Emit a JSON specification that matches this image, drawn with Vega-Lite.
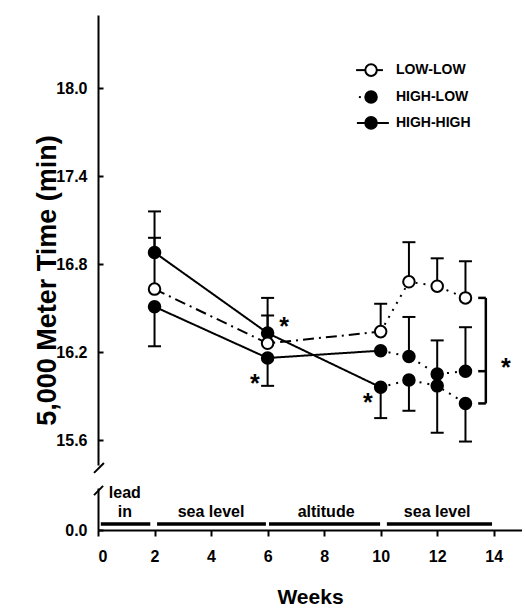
{
  "$schema": "https://vega.github.io/schema/vega-lite/v6.json",
  "padding": {"left": 33, "top": 15, "right": 0, "bottom": 0},
  "background": "white",
  "config": {
    "font": "Liberation Sans",
    "view": {"stroke": null},
    "axis": {"domainColor": "black", "domainWidth": 2, "tickColor": "black", "tickWidth": 2, "labelColor": "black", "labelFont": "Liberation Sans", "labelFontWeight": "bold", "labelFontSize": 16, "titleColor": "black", "titleFont": "Liberation Sans", "titleFontWeight": "bold", "grid": false},
    "concat": {"spacing": 10}
  },
  "datasets": {
    "perf": [
      {"series": "HIGH-HIGH", "week": 2, "time": 16.88, "err": 17.16},
      {"series": "HIGH-HIGH", "week": 6, "time": 16.33, "err": 16.57},
      {"series": "HIGH-HIGH", "week": 10, "time": 15.96, "err": 15.75},
      {"series": "HIGH-HIGH", "week": 11, "time": 16.01, "err": 15.80},
      {"series": "HIGH-HIGH", "week": 12, "time": 15.97, "err": 15.65},
      {"series": "HIGH-HIGH", "week": 13, "time": 15.85, "err": 15.59},
      {"series": "HIGH-LOW", "week": 2, "time": 16.51, "err": 16.24},
      {"series": "HIGH-LOW", "week": 6, "time": 16.16, "err": 15.97},
      {"series": "HIGH-LOW", "week": 10, "time": 16.21, "err": null},
      {"series": "HIGH-LOW", "week": 11, "time": 16.17, "err": 16.44},
      {"series": "HIGH-LOW", "week": 12, "time": 16.05, "err": 16.28},
      {"series": "HIGH-LOW", "week": 13, "time": 16.07, "err": 16.37},
      {"series": "LOW-LOW", "week": 2, "time": 16.63, "err": 16.98},
      {"series": "LOW-LOW", "week": 6, "time": 16.26, "err": 16.45},
      {"series": "LOW-LOW", "week": 10, "time": 16.34, "err": 16.53},
      {"series": "LOW-LOW", "week": 11, "time": 16.68, "err": 16.95},
      {"series": "LOW-LOW", "week": 12, "time": 16.65, "err": 16.84},
      {"series": "LOW-LOW", "week": 13, "time": 16.57, "err": 16.82}
    ],
    "legendItems": [
      {"series": "LOW-LOW", "sym": 9.66, "from": 9.13, "to": 10.08, "lab": 10.54, "pos": 18.124},
      {"series": "HIGH-LOW", "sym": 9.66, "from": 9.23, "to": 9.3, "lab": 10.54, "pos": 17.94},
      {"series": "HIGH-HIGH", "sym": 9.66, "from": 9.16, "to": 10.29, "lab": 10.54, "pos": 17.764}
    ],
    "bracket": [
      {"x1": 13.72, "x2": 13.72, "y1": 16.57, "y2": 15.85},
      {"x1": 13.45, "x2": 13.72, "y1": 16.57, "y2": 16.57},
      {"x1": 13.45, "x2": 13.72, "y1": 16.07, "y2": 16.07},
      {"x1": 13.45, "x2": 13.72, "y1": 15.85, "y2": 15.85}
    ],
    "stars": [
      {"week": 6.58, "time": 16.42},
      {"week": 5.55, "time": 16.03},
      {"week": 9.55, "time": 15.9},
      {"week": 14.43, "time": 16.14}
    ],
    "upperBreak": [{"x1": -0.14, "x2": 0.21, "y1": 15.376, "y2": 15.444}],
    "lowerBreak": [{"x1": -0.14, "x2": 0.18, "y1": 0.83, "y2": 1.05}],
    "phases": [
      {"phase": "lead in", "start": 0.1, "end": 1.85, "mid": 0.95},
      {"phase": "sea level", "start": 2.09, "end": 5.94, "mid": 4.0},
      {"phase": "altitude", "start": 6.05, "end": 9.98, "mid": 8.07},
      {"phase": "sea level", "start": 10.22, "end": 13.94, "mid": 12.0}
    ]
  },
  "resolve": {"scale": {"x": "independent", "y": "independent"}},
  "vconcat": [
    {
      "width": 424,
      "height": 450,
      "layer": [
        {
          "data": {"name": "perf"},
          "transform": [{"filter": "isValid(datum.err)"}],
          "mark": {"type": "rule", "strokeWidth": 2, "color": "black"},
          "encoding": {
            "x": {"field": "week", "type": "quantitative", "scale": {"domain": [0, 15], "nice": false, "zero": false}, "axis": null},
            "y": {"field": "time", "type": "quantitative", "scale": {"domain": [15.43, 18.5], "nice": false, "zero": false},
              "axis": {"values": [15.6, 16.2, 16.8, 17.4, 18.0], "format": ".1f", "tickSize": -5, "labelPadding": 16,
                "title": "5,000 Meter Time (min)", "titleFontSize": 27, "titleX": -51, "titleY": 265, "titleAngle": -90, "titleAlign": "center", "titleBaseline": "middle"}},
            "y2": {"field": "err"}
          }
        },
        {
          "data": {"name": "perf"},
          "transform": [{"filter": "isValid(datum.err)"}],
          "mark": {"type": "tick", "orient": "horizontal", "size": 13, "thickness": 2, "color": "black", "opacity": 1},
          "encoding": {
            "x": {"field": "week", "type": "quantitative"},
            "y": {"field": "err", "type": "quantitative"}
          }
        },
        {
          "data": {"name": "perf"},
          "transform": [{"filter": "datum.week <= 10"}],
          "mark": {"type": "line", "strokeWidth": 2, "color": "black"},
          "encoding": {
            "x": {"field": "week", "type": "quantitative"},
            "y": {"field": "time", "type": "quantitative"},
            "detail": {"field": "series"},
            "strokeDash": {"field": "series", "type": "nominal", "scale": {"domain": ["LOW-LOW", "HIGH-LOW", "HIGH-HIGH"], "range": [[11, 5, 2, 5], [1, 0], [1, 0]]}, "legend": null}
          }
        },
        {
          "data": {"name": "perf"},
          "transform": [{"filter": "datum.week >= 10"}],
          "mark": {"type": "line", "strokeWidth": 2, "color": "black", "strokeDash": [2, 6]},
          "encoding": {
            "x": {"field": "week", "type": "quantitative"},
            "y": {"field": "time", "type": "quantitative"},
            "detail": {"field": "series"}
          }
        },
        {
          "data": {"name": "perf"},
          "mark": {"type": "point", "shape": "circle", "filled": true, "size": 133, "stroke": "black", "strokeWidth": 2, "opacity": 1},
          "encoding": {
            "x": {"field": "week", "type": "quantitative"},
            "y": {"field": "time", "type": "quantitative"},
            "fill": {"field": "series", "type": "nominal",
              "scale": {"domain": ["LOW-LOW", "HIGH-LOW", "HIGH-HIGH"], "range": ["white", "black", "black"]},
              "legend": null}
          }
        },
        {
          "data": {"name": "legendItems"},
          "mark": {"type": "rule", "strokeWidth": 2, "color": "black"},
          "encoding": {
            "x": {"field": "from", "type": "quantitative"},
            "x2": {"field": "to"},
            "y": {"field": "pos", "type": "quantitative"}
          }
        },
        {
          "data": {"name": "legendItems"},
          "mark": {"type": "point", "shape": "circle", "filled": true, "size": 133, "stroke": "black", "strokeWidth": 2, "opacity": 1},
          "encoding": {
            "x": {"field": "sym", "type": "quantitative"},
            "y": {"field": "pos", "type": "quantitative"},
            "fill": {"field": "series", "type": "nominal", "legend": null}
          }
        },
        {
          "data": {"name": "legendItems"},
          "mark": {"type": "text", "fontSize": 14, "fontWeight": "bold", "align": "left", "baseline": "middle", "color": "black"},
          "encoding": {
            "x": {"field": "lab", "type": "quantitative"},
            "y": {"field": "pos", "type": "quantitative"},
            "text": {"field": "series", "type": "nominal"}
          }
        },
        {
          "data": {"name": "bracket"},
          "mark": {"type": "rule", "strokeWidth": 2.5, "color": "black"},
          "encoding": {
            "x": {"field": "x1", "type": "quantitative"},
            "x2": {"field": "x2"},
            "y": {"field": "y1", "type": "quantitative"},
            "y2": {"field": "y2"}
          }
        },
        {
          "data": {"name": "stars"},
          "mark": {"type": "text", "fontSize": 25, "fontWeight": "bold", "baseline": "alphabetic", "dy": 15, "color": "black"},
          "encoding": {
            "x": {"field": "week", "type": "quantitative"},
            "y": {"field": "time", "type": "quantitative"},
            "text": {"value": "*"}
          }
        },
        {
          "data": {"name": "upperBreak"},
          "mark": {"type": "rule", "strokeWidth": 2, "color": "black"},
          "encoding": {
            "x": {"field": "x1", "type": "quantitative"},
            "x2": {"field": "x2"},
            "y": {"field": "y1", "type": "quantitative"},
            "y2": {"field": "y2"}
          }
        }
      ]
    },
    {
      "width": 424,
      "height": 42,
      "layer": [
        {
          "data": {"name": "phases"},
          "mark": {"type": "rule", "strokeWidth": 3.5, "color": "black"},
          "encoding": {
            "x": {"field": "start", "type": "quantitative", "scale": {"domain": [0, 15], "nice": false, "zero": false},
              "axis": {"values": [0, 2, 4, 6, 8, 10, 12, 14], "tickSize": 6, "labelPadding": 12, "title": "Weeks", "titleFontSize": 21, "titlePadding": 22}},
            "x2": {"field": "end"},
            "y": {"datum": 0.14, "type": "quantitative", "scale": {"domain": [0, 1], "nice": false, "zero": false},
              "axis": {"values": [0], "format": ".1f", "title": null, "tickSize": -5, "labelPadding": 16}}
          }
        },
        {
          "data": {"name": "phases"},
          "transform": [{"filter": "datum.phase !== 'lead in'"}],
          "mark": {"type": "text", "fontSize": 16, "fontWeight": "bold", "baseline": "bottom", "color": "black"},
          "encoding": {
            "x": {"field": "mid", "type": "quantitative"},
            "y": {"datum": 0.25, "type": "quantitative"},
            "text": {"field": "phase", "type": "nominal"}
          }
        },
        {
          "data": {"name": "phases"},
          "transform": [{"filter": "datum.phase === 'lead in'"}],
          "mark": {"type": "text", "fontSize": 16, "fontWeight": "bold", "baseline": "bottom", "lineBreak": " ", "lineHeight": 19, "dy": -19, "color": "black"},
          "encoding": {
            "x": {"field": "mid", "type": "quantitative"},
            "y": {"datum": 0.25, "type": "quantitative"},
            "text": {"field": "phase", "type": "nominal"}
          }
        },
        {
          "data": {"name": "lowerBreak"},
          "mark": {"type": "rule", "strokeWidth": 2, "color": "black"},
          "encoding": {
            "x": {"field": "x1", "type": "quantitative"},
            "x2": {"field": "x2"},
            "y": {"field": "y1", "type": "quantitative"},
            "y2": {"field": "y2"}
          }
        }
      ]
    }
  ]
}
